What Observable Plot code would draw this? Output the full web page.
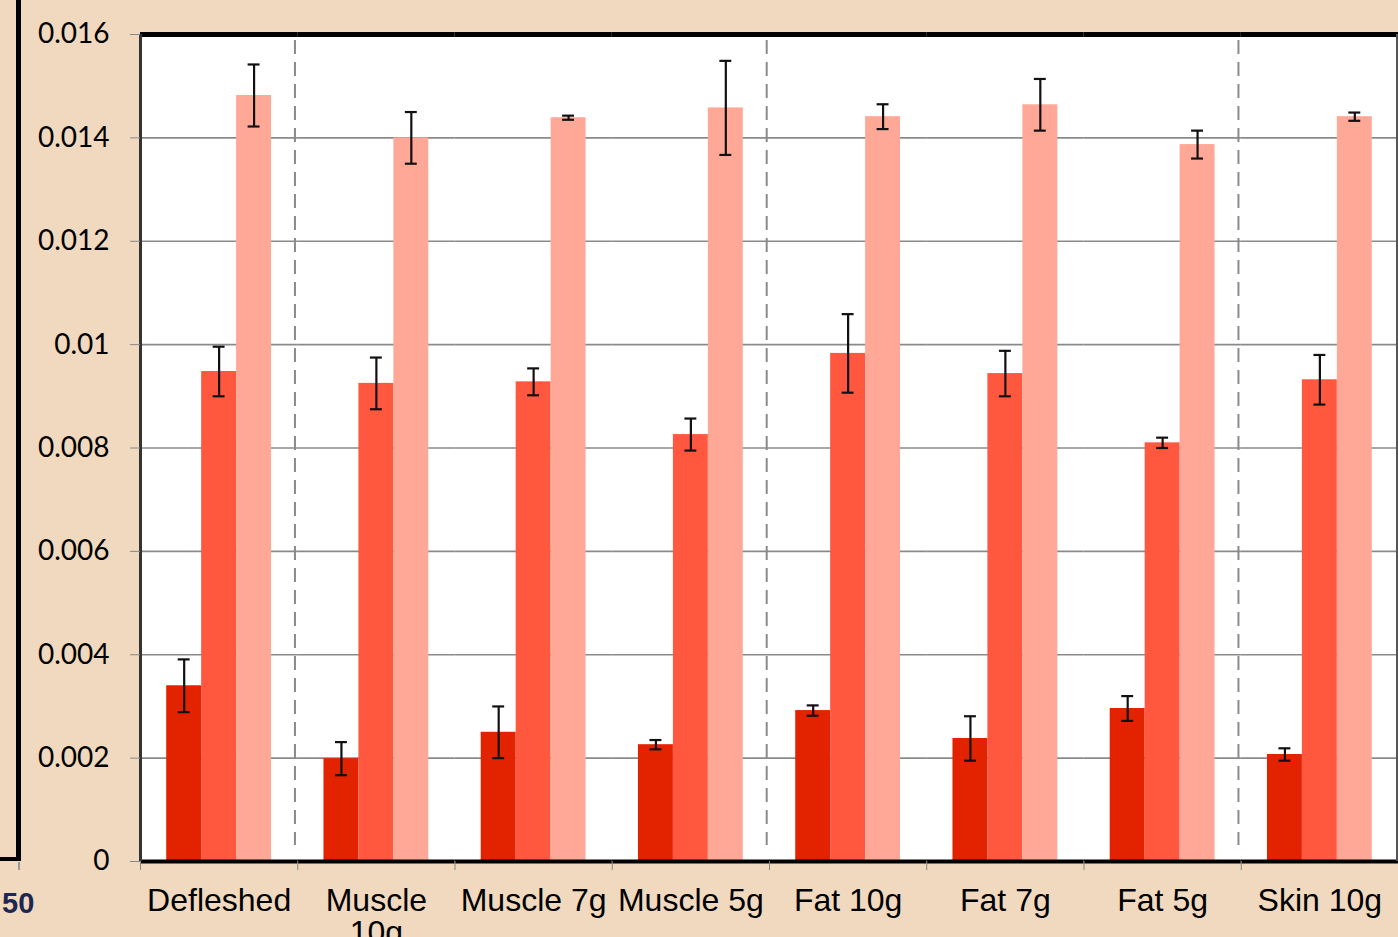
<!DOCTYPE html>
<html>
<head>
<meta charset="utf-8">
<script src="https://cdn.jsdelivr.net/npm/d3@7"></script>
<script src="https://cdn.jsdelivr.net/npm/@observablehq/plot@0.6"></script>
<style>
  html, body { margin: 0; padding: 0; background: #f0d9be; width: 1398px; height: 937px; overflow: hidden; }
  #wrap { position: relative; width: 1398px; height: 937px; }
  #chart { position: absolute; left: 0; top: 0; }
  #sliver { position: absolute; left: 0; top: 0; width: 16px; height: 857px; border-right: 5px solid #000; border-bottom: 4px solid #000; }
  #sliverTick { position: absolute; left: 18px; top: 862px; width: 2px; height: 8px; background: #999; }
  #fifty { position: absolute; left: 2px; top: 887px; font: bold 29px "Liberation Sans", Arial, sans-serif; color: #1d2752; }
</style>
</head>
<body>
<div id="wrap">
  <div id="sliver"></div>
  <div id="sliverTick"></div>
  <div id="fifty">50</div>
  <div id="chart"></div>
</div>
<script>
const categories = ["Defleshed", "Muscle 10g", "Muscle 7g", "Muscle 5g", "Fat 10g", "Fat 7g", "Fat 5g", "Skin 10g"];
const seriesNames = ["Series 1", "Series 2", "Series 3"];
const seriesColors = ["#e32200", "#ff583e", "#ffa898"];

const series1Values = [0.00340, 0.00199, 0.00250, 0.00226, 0.00292, 0.00238, 0.00296, 0.00207];
const series1Errors = [0.00051, 0.00032, 0.00050, 0.00009, 0.00010, 0.00043, 0.00024, 0.00012];
const series2Values = [0.00948, 0.00925, 0.00928, 0.00826, 0.00983, 0.00944, 0.00810, 0.00932];
const series2Errors = [0.00048, 0.00050, 0.00026, 0.00031, 0.00076, 0.00044, 0.00010, 0.00048];
const series3Values = [0.01482, 0.01400, 0.01439, 0.01458, 0.01441, 0.01464, 0.01387, 0.01441];
const series3Errors = [0.00060, 0.00050, 0.00004, 0.00091, 0.00024, 0.00050, 0.00027, 0.00008];

const yTicks = [0, 0.002, 0.004, 0.006, 0.008, 0.01, 0.012, 0.014, 0.016];
const separatorCategories = ["Muscle 10g", "Fat 10g", "Skin 10g"];

const valueSets = [series1Values, series2Values, series3Values];
const errorSets = [series1Errors, series2Errors, series3Errors];
const data = [];
categories.forEach((c, i) => {
  seriesNames.forEach((s, j) => {
    data.push({category: c, series: s, value: valueSets[j][i], err: errorSets[j][i]});
  });
});
// anchor rows: first series of a category, used to find the band edges
const anchorRows = cats => cats.map(c => ({category: c, series: seriesNames[0]}));

const W = 1398, ML = 140, MR = 0;
const step = (W - ML - MR) / categories.length;
const outerPad = 0.75;
const bw = step / (seriesNames.length + 2 * outerPad);
const firstCenter = outerPad * bw + bw / 2; // from facet's left edge

const chart = Plot.plot({
  width: W,
  height: 937,
  marginLeft: ML,
  marginRight: MR,
  marginTop: 34,
  marginBottom: 76,
  style: {background: "transparent", overflow: "visible"},
  fx: {domain: categories, padding: 0, round: false},
  x: {domain: seriesNames, paddingInner: 0, paddingOuter: outerPad, round: false, axis: null},
  y: {domain: [0, 0.016]},
  color: {domain: seriesNames, range: seriesColors},
  marks: [
    Plot.frame({fill: "white", stroke: "white", strokeWidth: 1.5}),
    Plot.gridY(yTicks, {stroke: "#8a8a8a", strokeOpacity: 1, strokeWidth: 1.6}),
    Plot.barY(data, {fx: "category", x: "series", y: "value", fill: "series"}),
    Plot.ruleX(anchorRows(separatorCategories), {fx: "category", x: "series", dx: -firstCenter - 2.8, stroke: "#8a8a8a", strokeWidth: 2, strokeDasharray: "14,8", insetTop: 6, insetBottom: 16}),
    Plot.ruleY([0.016], {stroke: "#000", strokeWidth: 5}),
    Plot.ruleY([0], {stroke: "#000", strokeWidth: 4}),
    Plot.ruleX(anchorRows(["Defleshed"]), {fx: "category", x: "series", dx: -firstCenter, stroke: "#333", strokeWidth: 3}),
    Plot.ruleX(anchorRows(["Skin 10g"]), {fx: "category", x: "series", dx: step - firstCenter - 1.5, stroke: "#555", strokeWidth: 2}),
    Plot.ruleX(data, {fx: "category", x: "series", y1: d => d.value - d.err, y2: d => d.value + d.err, stroke: "#111", strokeWidth: 2.2}),
    Plot.tickY(data, {fx: "category", x: "series", y: d => d.value - d.err, stroke: "#111", strokeWidth: 2.2, inset: 11.5}),
    Plot.tickY(data, {fx: "category", x: "series", y: d => d.value + d.err, stroke: "#111", strokeWidth: 2.2, inset: 11.5}),
    Plot.axisY(yTicks, {
      tickFormat: d => String(Math.round(d * 1000) / 1000),
      tickSize: 10, tickPadding: 21, stroke: "#888",
      fontSize: 28, fontFamily: "Lato, 'Open Sans', sans-serif", fill: "#000", label: null
    }),
    Plot.axisFx({anchor: "bottom", tickSize: 9, dx: -step / 2, stroke: "#888", tickFormat: () => "", label: null}),
    Plot.axisFx({
      anchor: "bottom", tickSize: 0, tickPadding: 27,
      tickFormat: d => d === "Muscle 10g" ? "Muscle\n10g" : d,
      fontSize: 32, fontFamily: "'Liberation Sans', Arial, sans-serif", fill: "#000", label: null
    })
  ]
});
document.getElementById("chart").appendChild(chart);
</script>
</body>
</html>
